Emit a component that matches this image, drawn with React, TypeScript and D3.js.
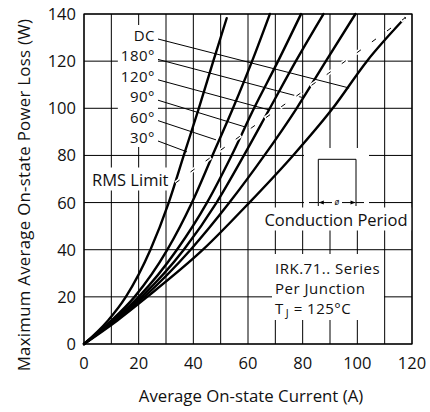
import React, { useEffect, useRef } from 'react';
import * as d3 from 'd3';

// curves: [average current (A), power loss (W)]
const dcCurve: [number, number][] = [[0, 0], [12.2, 10], [23.1, 20], [43.5, 40], [60.5, 60], [76.5, 80], [91, 100], [103.5, 120], [117.4, 138.3]];
const curve180: [number, number][] = [[0, 0], [11.5, 10], [22, 20], [39, 40], [53.2, 60], [66, 80], [77.8, 100], [88.5, 120], [99.3, 140]];
const curve120: [number, number][] = [[0, 0], [11.1, 10], [21, 20], [36.5, 40], [48.5, 60], [58.5, 80], [68, 100], [77.5, 120], [87.6, 140]];
const curve90: [number, number][] = [[0, 0], [10.7, 10], [20, 20], [34, 40], [45, 60], [54, 80], [62.2, 100], [71, 120], [79.4, 140]];
const curve60: [number, number][] = [[0, 0], [10.1, 10], [18.5, 20], [30.5, 40], [39.5, 60], [47, 80], [54.5, 100], [61.5, 120], [68, 140]];
const curve30: [number, number][] = [[0, 0], [8.8, 10], [15.3, 20], [24.3, 40], [31, 60], [36.5, 80], [42, 100], [47.3, 120], [52.2, 138.2]];

const seriesNames = ['DC', '180°', '120°', '90°', '60°', '30°'];
const seriesData = [dcCurve, curve180, curve120, curve90, curve60, curve30];
// where each label's leader line meets its curve
const leaderEnds: [number, number][] = [[97, 108.6], [80.5, 104.4], [67.7, 99.3], [58.9, 92.1], [48.3, 86.6], [37.7, 81.5]];

const rmsLimit: [number, number][] = [[33.5, 68.3], [39, 73], [61.4, 91.8], [89.4, 114.8], [117.4, 138.3]];

const xTicks = [0, 20, 40, 60, 80, 100, 120];
const yTicks = [0, 20, 40, 60, 80, 100, 120, 140];
const infoLines = ['IRK.71.. Series', 'Per Junction'];

const font = "'Open Sans', 'DejaVu Sans', sans-serif";

export default function App() {
  const ref = useRef<SVGSVGElement>(null);

  useEffect(() => {
    const svg = d3.select(ref.current);
    svg.selectAll('*').remove();

    const width = 430;
    const height = 412;
    const margin = { top: 14, right: 18, bottom: 68, left: 84 };

    const x = d3.scaleLinear().domain([0, 120]).range([margin.left, width - margin.right]);
    const y = d3.scaleLinear().domain([0, 140]).range([height - margin.bottom, margin.top]);

    svg.append('rect').attr('width', width).attr('height', height).attr('fill', '#fff');

    const gridG = svg.append('g');
    const bgG = svg.append('g');
    const curveG = svg.append('g');
    const textG = svg.append('g').attr('font-family', font).attr('font-size', 16.5).attr('fill', '#111');

    // grid
    gridG
      .selectAll('line.v')
      .data(x.ticks(12))
      .join('line')
      .attr('x1', (d) => x(d))
      .attr('x2', (d) => x(d))
      .attr('y1', y(0))
      .attr('y2', y(140))
      .attr('stroke', '#000')
      .attr('stroke-width', 1);
    gridG
      .selectAll('line.h')
      .data(y.ticks(7))
      .join('line')
      .attr('x1', x(0))
      .attr('x2', x(120))
      .attr('y1', (d) => y(d))
      .attr('y2', (d) => y(d))
      .attr('stroke', '#000')
      .attr('stroke-width', 1);

    // white patch behind a text element
    const backing = (sel: any, padX = 3, padY = 2) => {
      const b = (sel.node() as SVGGraphicsElement).getBBox();
      bgG
        .append('rect')
        .attr('x', b.x - padX)
        .attr('y', b.y - padY)
        .attr('width', b.width + padX * 2)
        .attr('height', b.height + padY * 2)
        .attr('fill', '#fff');
    };

    // tick labels
    textG
      .selectAll('text.xt')
      .data(xTicks)
      .join('text')
      .attr('x', (d) => x(d))
      .attr('y', 369)
      .attr('text-anchor', 'middle')
      .text((d) => d);
    textG
      .selectAll('text.yt')
      .data(yTicks)
      .join('text')
      .attr('x', 76)
      .attr('y', (d) => y(d))
      .attr('dy', '0.36em')
      .attr('text-anchor', 'end')
      .text((d) => d);

    textG
      .append('text')
      .attr('x', 251)
      .attr('y', 401.5)
      .attr('text-anchor', 'middle')
      .attr('font-size', 16.8)
      .text('Average On-state Current (A)');
    textG
      .append('text')
      .attr('transform', 'translate(30,195) rotate(-90)')
      .attr('text-anchor', 'middle')
      .attr('font-size', 16.8)
      .attr('letter-spacing', 0.3)
      .text('Maximum Average On-state Power Loss (W)');

    // angle labels
    const labelG = textG.append('g').attr('font-size', 15).attr('letter-spacing', 0.5);
    seriesNames.forEach((name, i) => {
      labelG
        .append('text')
        .attr('x', 155)
        .attr('y', 41 + 20.4 * i)
        .attr('text-anchor', 'end')
        .text(name);
    });
    backing(labelG, 3, 0);

    const rmsText = textG.append('text').attr('x', 92).attr('y', 185.5).text('RMS Limit');
    backing(rmsText, 2, 0);

    // conduction period symbol
    const baseY = y(60);
    bgG.append('rect').attr('x', 304).attr('y', 148).attr('width', 65).attr('height', 62).attr('fill', '#fff');
    const sym = curveG.append('g').attr('stroke', '#000').attr('fill', 'none').attr('stroke-width', 1);
    sym.append('path').attr('d', `M309,${baseY}H318.3M318.3,206V159.3H356V206M356,${baseY}H364`);
    sym.append('path').attr('d', `M318.8,${baseY}H332M342,${baseY}H355.5`);
    sym
      .append('path')
      .attr('fill', '#000')
      .attr('stroke', 'none')
      .attr('d', `M318.8,${baseY}l5,-2v4zM355.5,${baseY}l-5,-2v4z`);
    curveG
      .append('text')
      .attr('x', 337)
      .attr('y', baseY + 2.5)
      .attr('text-anchor', 'middle')
      .attr('font-family', font)
      .attr('font-size', 8.5)
      .attr('font-style', 'italic')
      .text('ø');

    const condText = textG.append('text').attr('x', 336).attr('y', 225.5).text('Conduction Period').attr('text-anchor', 'middle');
    backing(condText, 4, 0);

    bgG.append('rect').attr('x', 272).attr('y', 254).attr('width', 112).attr('height', 66).attr('fill', '#fff');
    const infoG = textG.append('g').attr('font-size', 15).attr('letter-spacing', 0.5);
    infoLines.forEach((t, i) => {
      infoG.append('text').attr('x', 275).attr('y', 274 + 20.2 * i).text(t);
    });
    const tj = infoG.append('text').attr('x', 275).attr('y', 314);
    tj.append('tspan').text('T');
    tj.append('tspan').attr('font-size', 11).attr('dx', 2).attr('dy', 3).text('J');
    tj.append('tspan').attr('dy', -3).text(' = 125°C');

    // curves
    const line = d3
      .line<[number, number]>()
      .x((d) => x(d[0]))
      .y((d) => y(d[1]))
      .curve(d3.curveMonotoneX);

    curveG
      .selectAll('path.curve')
      .data(seriesData)
      .join('path')
      .attr('fill', 'none')
      .attr('stroke', '#000')
      .attr('stroke-width', 2.4)
      .attr('stroke-linecap', 'round')
      .attr('d', (d) => line(d));

    // leader lines
    leaderEnds.forEach((e, i) => {
      curveG
        .append('line')
        .attr('x1', 158)
        .attr('y1', 41 + 20.4 * i - 2)
        .attr('x2', x(e[0]))
        .attr('y2', y(e[1]))
        .attr('stroke', '#000')
        .attr('stroke-width', 1);
    });

    // RMS limit, dashed with white halo
    const straight = d3
      .line<[number, number]>()
      .x((d) => x(d[0]))
      .y((d) => y(d[1]));
    curveG
      .append('path')
      .attr('d', straight(rmsLimit))
      .attr('fill', 'none')
      .attr('stroke', '#fff')
      .attr('stroke-width', 4)
      .attr('stroke-dasharray', '8,10.6')
      .attr('stroke-dashoffset', 1.5);
    curveG
      .append('path')
      .attr('d', straight(rmsLimit))
      .attr('fill', 'none')
      .attr('stroke', '#000')
      .attr('stroke-width', 1)
      .attr('stroke-dasharray', '5,13.6');

    // frame
    svg
      .append('rect')
      .attr('x', x(0))
      .attr('y', y(140))
      .attr('width', x(120) - x(0))
      .attr('height', y(0) - y(140))
      .attr('fill', 'none')
      .attr('stroke', '#000')
      .attr('stroke-width', 1.2);
  }, []);

  return (
    <svg
      ref={ref}
      width={430}
      height={412}
      style={{ position: 'absolute', left: 0, top: 0, display: 'block' }}
    />
  );
}
